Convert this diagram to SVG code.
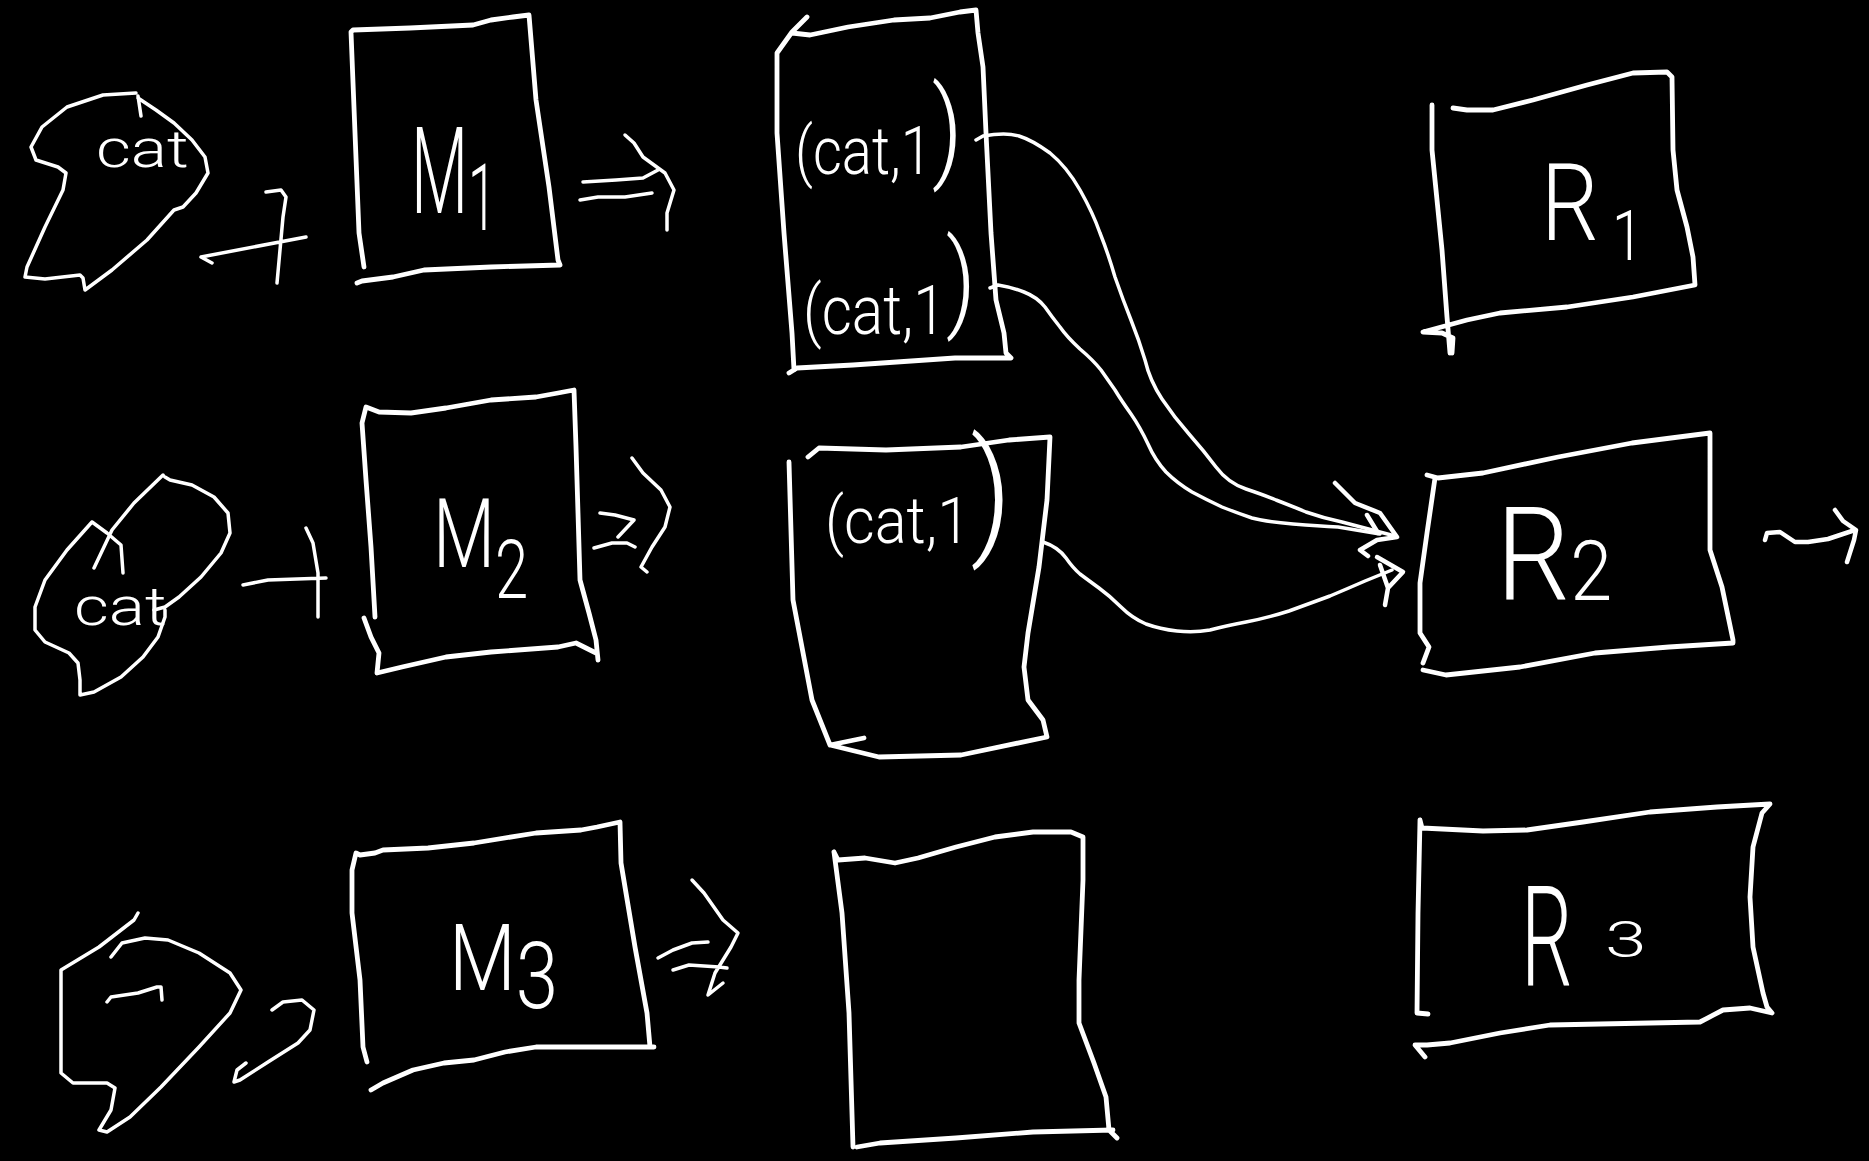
<svg xmlns="http://www.w3.org/2000/svg" width="1869" height="1161" viewBox="0 0 1869 1161">
<style>
.s{fill:none;stroke:#fff;stroke-width:4.8;stroke-linecap:round;stroke-linejoin:round}
.c{fill:none;stroke:#fff;stroke-width:3.5;stroke-linecap:round;stroke-linejoin:round}
.h{fill:none;stroke:#fff;stroke-width:4.5;stroke-linecap:round;stroke-linejoin:round}
.t{fill:#fff;font-family:"Roboto","Open Sans","DejaVu Sans",sans-serif;font-weight:300}
</style>
<rect width="1869" height="1161" fill="#000"/>

<g id="input1">
<path class="c" d="M136,93 L103,95 L67,107 L42,127 L31,147 L36,160 L58,167 L66,173 L63,190 L45,227 L27,267 L25,277 L45,279 L80,275 L83,278 L85,290 L112,270 L147,240 L174,210 L183,207 L196,193 L208,173 L205,157 L192,140 L174,123 L156,110 L138,98 M138,96 L141,116"/>
<text class="t" transform="translate(96,167) scale(1.3,1)" font-size="52">cat</text>
</g>

<g id="input2">
<path class="c" d="M92,522 L67,550 L45,580 L35,607 L35,630 L45,642 L69,653 L78,663 L80,680 L80,695 L94,692 L121,677 L143,657 L158,637 L165,617 L165,610 M165,477 L170,480 L192,485 L214,497 L228,513 L230,533 L221,553 L201,577 L179,597 L165,607 L154,610 M163,475 L134,503 L112,530 L94,568 M92,522 L107,533 L121,545 L123,573"/>
<text class="t" transform="translate(74,625) scale(1.25,1)" font-size="54">cat</text>
</g>

<g id="input3">
<path class="c" d="M138,913 L134,920 L99,947 L61,970 L61,1073 L73,1083 L107,1083 L115,1088 L111,1110 L99,1130 L107,1132 L130,1117 L161,1087 L199,1047 L230,1013 L241,990 L230,973 L199,953 L168,940 L145,938 L122,943 L111,957 M107,1002 L111,997 L138,993 L157,987 L161,987 L162,1000"/>
</g>

<g id="mapper1">
<path class="s" d="M364,267 L359,233 L355,133 L351,32 L353,30 L410,28 L473,25 L491,20 L513,17 L529,15 L536,100 L549,187 L558,260 L560,265 L491,267 L424,270 L393,277 L362,281 L357,283"/>
<text class="t" transform="translate(411,213) scale(0.55,1)" font-size="120">M<tspan font-size="93" dy="17">1</tspan></text>
</g>

<g id="mapper2">
<path class="s" d="M375,617 L371,547 L366,480 L362,423 L366,407 L379,412 L411,413 L446,408 L491,400 L536,397 L558,393 L574,390 L576,447 L578,513 L580,580 L589,613 L596,640 L598,660 M364,618 L371,637 L379,653 L377,673 L402,667 L446,657 L491,652 L558,647 L576,643 L596,653"/>
<text class="t" transform="translate(433,567) scale(0.74,1)" font-size="97">M<tspan font-size="81" dy="31">2</tspan></text>
</g>

<g id="mapper3">
<path class="s" d="M367,1062 L363,1047 L360,980 L352,913 L352,870 L356,853 L360,855 L375,853 L383,850 L428,848 L474,843 L536,833 L581,830 L597,827 L620,822 L621,863 L635,947 L647,1013 L650,1047 L654,1047 L536,1047 L505,1052 L474,1060 L444,1063 L413,1070 L383,1083 L371,1090"/>
<text class="t" transform="translate(449,990) scale(0.83,1)" font-size="93">M<tspan font-size="92" dy="18">3</tspan></text>
</g>

<g id="mapout1">
<path class="s" d="M807,17 L792,32 L777,53 L777,133 L784,233 L792,333 L794,370 M792,33 L810,35 L848,27 L894,20 L930,18 L960,12 L976,10 L978,33 L983,67 L986,133 L991,233 L996,300 L1004,333 L1006,353 L1011,358 L955,358 L853,365 L797,368 L789,373"/>
<text class="t" transform="translate(795,174) scale(0.85,1)" font-size="66">(cat,1<tspan font-size="112" dy="-7">)</tspan></text>
<text class="t" transform="translate(803,334) scale(0.86,1)" font-size="68">(cat,1<tspan font-size="108" dy="-17">)</tspan></text>
</g>

<g id="mapout2">
<path class="s" d="M808,457 L819,448 L886,450 L961,447 L1009,440 L1050,437 L1047,500 L1039,567 L1028,633 L1024,667 L1028,700 L1043,720 L1047,737 L961,755 L879,757 L830,745 L864,738 M830,745 L812,700 L793,600 L789,462"/>
<text class="t" transform="translate(825,543) scale(0.93,1)" font-size="64">(cat,1<tspan font-size="138" dy="-4">)</tspan></text>
</g>

<g id="mapout3">
<path class="s" d="M834,852 L838,860 L865,858 L895,863 L918,858 L956,847 L995,837 L1033,832 L1071,832 L1083,837 L1083,880 L1079,980 L1079,1023 L1094,1063 L1106,1097 L1109,1130 L1117,1138 M1113,1130 L1033,1132 L956,1138 L880,1143 L857,1147 M834,852 L842,913 L849,1013 L851,1080 L853,1147"/>
</g>

<g id="reducer1">
<path class="s" d="M1453,108 L1467,110 L1493,110 L1533,100 L1587,85 L1633,73 L1667,72 L1672,77 L1673,150 L1677,190 L1687,227 L1693,257 L1695,285 L1633,297 L1567,307 L1500,313 L1467,320 L1423,332 L1442,333 L1453,338 L1452,353 M1432,105 L1432,150 L1437,200 L1442,250 L1447,317 L1450,353"/>
<text class="t" transform="translate(1541,240) scale(0.85,1)" font-size="107">R</text>
<text class="t" transform="translate(1612,260) scale(0.8,1)" font-size="70">1</text>
</g>

<g id="reducer2">
<path class="s" d="M1427,475 L1438,478 L1483,473 L1558,457 L1632,443 L1710,433 L1710,550 L1722,587 L1733,640 L1733,643 L1669,647 L1595,653 L1520,667 L1446,675 L1423,670 M1435,478 L1427,533 L1420,583 L1420,633 L1429,647 L1423,663"/>
<text class="t" transform="translate(1496,600) scale(0.9,1)" font-size="130">R<tspan font-size="84">2</tspan></text>
</g>

<g id="reducer3">
<path class="s" d="M1420,820 L1422,828 L1483,831 L1527,830 L1583,822 L1650,812 L1717,807 L1770,804 L1762,813 L1753,847 L1750,897 L1753,947 L1763,993 L1767,1007 L1772,1013 L1750,1008 L1723,1010 L1700,1022 L1650,1023 L1550,1025 L1500,1033 L1450,1043 L1427,1045 L1415,1045 L1425,1057 M1420,820 L1418,913 L1417,1013 L1428,1014"/>
<text class="t" transform="translate(1521,985) scale(0.58,1)" font-size="140">R</text>
<text class="t" transform="translate(1605,957) scale(1.5,1)" font-size="50">3</text>
</g>

<g id="connectors">
<path class="c" d="M212,263 L201,257 L306,237 M266,192 L281,190 L286,197 L283,217 L277,283"/>
<path class="c" d="M243,585 L268,580 L326,578 M306,528 L313,543 L318,573 L318,617"/>
<path class="c" d="M272,1010 L283,1002 L302,1000 L314,1010 L310,1030 L298,1043 L268,1062 L240,1080 L234,1082 L237,1070 L246,1063"/>
<path class="c" d="M583,182 L616,180 L643,178 L658,170 M580,200 L598,197 L625,197 L652,193 M625,135 L634,143 L643,157 L665,173 L674,190 L667,213 L667,230"/>
<path class="c" d="M600,513 L615,515 L634,520 L618,537 M594,548 L612,543 L627,543 L635,547 M632,458 L643,473 L661,490 L670,507 L665,527 L652,547 L641,567 L647,572"/>
<path class="c" d="M658,958 L673,950 L692,943 L708,942 M673,970 L689,965 L719,967 L727,968 M692,880 L704,893 L723,920 L738,933 L731,947 L715,973 L708,995 L723,983"/>
<path class="c" d="M976,140 L983,136 Q1006,132 1019,136 Q1032,140 1050,153 Q1067,167 1080,190 Q1093,213 1100,233 Q1108,253 1115,277 Q1123,300 1131,320 Q1139,340 1145,360 Q1150,381 1162,399 Q1174,417 1189,434 Q1204,451 1216,467 Q1228,483 1246,489 Q1264,495 1276,500 Q1289,505 1306,512 Q1323,518 1342,522 L1395,536"/>
<path class="c" d="M990,288 L998,285 Q1011,287 1024,292 Q1037,297 1045,307 Q1052,317 1060,327 Q1067,337 1080,349 Q1093,360 1101,370 Q1108,380 1115,390 Q1121,400 1131,414 Q1140,427 1148,444 Q1155,460 1166,472 Q1177,483 1192,492 Q1207,500 1222,507 Q1237,513 1252,518 Q1267,522 1293,524 Q1319,526 1338,527 L1380,534"/>
<path class="c" d="M1043,542 Q1058,547 1066,558 Q1073,568 1080,574 Q1088,580 1099,588 Q1110,596 1121,607 Q1132,618 1146,624 Q1160,629 1177,631 Q1194,633 1210,630 Q1225,626 1246,622 Q1267,618 1289,611 Q1311,603 1330,596 Q1349,588 1365,581 L1392,570"/>
<path class="h" d="M1335,483 L1355,503 L1380,513 L1397,537 L1377,540 L1360,550 L1368,556 M1367,515 L1378,533"/>
<path class="h" d="M1377,557 L1403,572 L1388,588 L1385,605 M1380,565 L1388,588"/>
<path class="h" d="M1765,540 L1767,533 L1780,532 L1795,542 L1808,542 L1828,539 L1852,531 M1835,510 L1843,521 L1856,530 L1854,540 L1847,562"/>
</g>
</svg>
